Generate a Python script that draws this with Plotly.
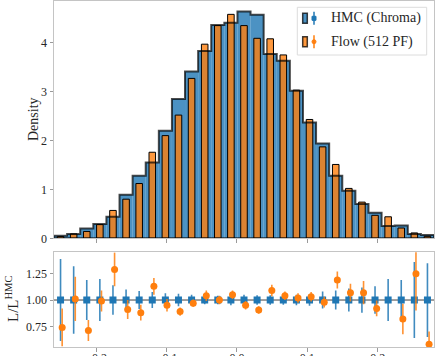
import numpy as np
import plotly.graph_objects as go

# ---------------- data ----------------
x_lo, x_hi, n_bins = -0.26, 0.28, 29

hmc_density = [0.05, 0.09, 0.20, 0.29, 0.44, 0.89, 1.28, 1.55, 2.20, 2.85,
               3.41, 3.83, 4.36, 4.41, 4.64, 4.57, 3.77, 3.63, 3.02, 2.37,
               1.94, 1.28, 0.97, 0.70, 0.52, 0.25, 0.26, 0.09, 0.07]
flow_density = [0.035, 0.09, 0.14, 0.28, 0.57, 0.80, 1.12, 1.76, 2.10, 2.52,
                3.27, 3.97, 4.35, 4.58, 4.35, 4.09, 4.08, 3.75, 3.03, 2.43,
                1.87, 1.51, 1.02, 0.74, 0.47, 0.44, 0.21, 0.11, 0.04]

hmc_ratio_err = [0.39, 0.32, 0.19, 0.20, 0.14, 0.10, 0.085, 0.075, 0.065, 0.06,
                 0.05, 0.04, 0.04, 0.05, 0.05, 0.045, 0.045, 0.045, 0.05, 0.055,
                 0.08, 0.09, 0.11, 0.12, 0.13, 0.20, 0.19, 0.36, 0.35]
flow_ratio = [0.74, 1.01, 0.71, 0.99, 1.29, 0.91, 0.88, 1.13, 0.95, 0.89,
              0.97, 1.04, 1.00, 1.05, 0.95, 0.905, 1.09, 1.04, 1.02, 1.03,
              0.98, 1.19, 1.07, 1.07, 0.92, 1.76, 0.82, 1.25, 0.58]
flow_ratio_err = [0.18, 0.21, 0.10, 0.10, 0.16, 0.09, 0.075, 0.08, 0.06, 0.04,
                  0.035, 0.05, 0.04, 0.04, 0.04, 0.035, 0.055, 0.04, 0.045, 0.045,
                  0.05, 0.08, 0.085, 0.11, 0.075, 0.25, 0.145, 0.35, 0.12]

x_tickvals = [-0.2, -0.1, 0.0, 0.1, 0.2]
x_ticktext = ["\u22120.2", "\u22120.1", "0.0", "0.1", "0.2"]
top_tickvals = [0, 1, 2, 3, 4]
ratio_tickvals = [0.75, 1.00, 1.25]
ratio_ticktext = ["0.75", "1.00", "1.25"]

labels = ["HMC (Chroma)", "Flow (512 PF)"]

# ---------------- derived geometry ----------------
edges = np.linspace(x_lo, x_hi, n_bins + 1)
bw = edges[1] - edges[0]
centers = 0.5 * (edges[:-1] + edges[1:])

BLUE = "#1f77b4"
ORANGE = "#ff7f0e"
BLUE_A = "rgba(31,119,180,0.8)"
ORANGE_A = "rgba(255,127,14,0.8)"
FONT = "Liberation Serif"

# step outline for HMC histogram
px, py = [edges[0]], [0.0]
for i, h in enumerate(hmc_density):
    px += [edges[i], edges[i + 1]]
    py += [h, h]
px += [edges[-1], edges[0]]
py += [0.0, 0.0]

fig = go.Figure()
# HMC filled histogram (full-width bars, no edges)
fig.add_trace(go.Bar(
    x=centers, y=hmc_density, width=bw,
    marker=dict(color=BLUE_A, line=dict(width=0)),
    hoverinfo="skip", showlegend=False, xaxis="x", yaxis="y"))
# Flow narrow bars
fig.add_trace(go.Bar(
    x=centers, y=flow_density, width=0.5 * bw,
    marker=dict(color=ORANGE_A, line=dict(color="black", width=1)),
    showlegend=False, xaxis="x", yaxis="y"))
# HMC step outline
fig.add_trace(go.Scatter(
    x=px, y=py, mode="lines",
    line=dict(color="rgba(0,0,0,0.7)", width=2), hoverinfo="skip",
    showlegend=False, xaxis="x", yaxis="y"))

# ratio panel
fig.add_trace(go.Scatter(
    x=centers, y=[1.0] * n_bins, mode="markers",
    marker=dict(symbol="square", size=7, color=BLUE),
    error_y=dict(type="data", array=hmc_ratio_err, color="rgba(31,119,180,0.85)",
                 thickness=1.6, width=0),
    showlegend=False, xaxis="x2", yaxis="y2"))
fig.add_trace(go.Scatter(
    x=centers + 0.0023, y=flow_ratio, mode="markers",
    marker=dict(symbol="circle", size=7, color=ORANGE),
    error_y=dict(type="data", array=flow_ratio_err, color="rgba(255,127,14,0.85)",
                 thickness=1.6, width=0),
    showlegend=False, xaxis="x2", yaxis="y2", cliponaxis=True))

# ---------------- layout ----------------
W, H = 440, 356
L, R, T, B = 54, 6, 1, 9
ph = H - T - B

def pyc(pix):  # pixel y -> paper y
    return (H - B - pix) / ph

def pxc(pix):  # pixel x -> paper x
    return (pix - L) / (W - L - R)

axis_common = dict(showline=True, mirror=True, linecolor="#c4c4c4", linewidth=1,
                   ticks="outside", ticklen=3.5, tickcolor="#9a9a9a", tickwidth=1,
                   showgrid=False, zeroline=False, automargin=False,
                   tickfont=dict(family=FONT, size=12, color="#262626"))

fig.update_layout(
    width=W, height=H, margin=dict(l=L, r=R, t=T, b=B),
    paper_bgcolor="white", plot_bgcolor="white",
    barmode="overlay", showlegend=False,
    font=dict(family=FONT, color="#262626"),
    xaxis=dict(domain=[0, 1], range=[x_lo, x_hi], anchor="y", matches="x2",
               tickvals=x_tickvals, showticklabels=False, **axis_common),
    yaxis=dict(domain=[pyc(238.3), 1], range=[0, 4.853], anchor="x",
               tickvals=top_tickvals, **axis_common),
    xaxis2=dict(domain=[0, 1], range=[x_lo, x_hi], anchor="y2",
                tickvals=x_tickvals, ticktext=x_ticktext, ticklabelstandoff=-4,
                **axis_common),
    yaxis2=dict(domain=[0, pyc(252.3)], range=[0.554, 1.453], anchor="x2",
                tickvals=ratio_tickvals, ticktext=ratio_ticktext, **axis_common),
)

shapes = [
    dict(type="line", xref="x2 domain", yref="y2", x0=0, x1=1, y0=1, y1=1,
         line=dict(color="#404040", width=1), layer="below"),
    # legend frame
    dict(type="rect", xref="paper", yref="paper",
         x0=pxc(297.3), x1=pxc(426.7), y0=pyc(55), y1=pyc(7.3),
         line=dict(color="#dcdcdc", width=1), fillcolor="rgba(255,255,255,0.8)"),
]
annotations = [
    dict(text="Density", xref="paper", yref="paper", x=pxc(33), y=pyc(119),
         textangle=-90, showarrow=False, xanchor="center", yanchor="middle",
         font=dict(family=FONT, size=14, color="#262626")),
    dict(text="L/L<sup>HMC</sup>", xref="paper", yref="paper", x=pxc(12), y=pyc(299),
         textangle=-90, showarrow=False, xanchor="center", yanchor="middle",
         font=dict(family=FONT, size=15, color="#262626")),
]

rows = [(18.3, BLUE_A, BLUE, "square"), (41.7, ORANGE_A, ORANGE, "circle")]
for (cy, fill, solid, sym), lab in zip(rows, labels):
    shapes.append(dict(type="rect", xref="paper", yref="paper",
                       x0=pxc(302.7), x1=pxc(307.3), y0=pyc(cy + 5), y1=pyc(cy - 5),
                       line=dict(color="rgba(0,0,0,0.75)", width=1.5), fillcolor=fill))
    shapes.append(dict(type="line", xref="paper", yref="paper",
                       x0=pxc(314), x1=pxc(314), y0=pyc(cy + 6.5), y1=pyc(cy - 6.5),
                       line=dict(color=solid, width=1.5)))
    shapes.append(dict(type=("rect" if sym == "square" else "circle"),
                       xref="paper", yref="paper",
                       x0=pxc(312), x1=pxc(316), y0=pyc(cy + 2), y1=pyc(cy - 2),
                       line=dict(color=solid, width=1), fillcolor=solid))
    annotations.append(dict(text=lab, xref="paper", yref="paper", x=pxc(329.3), y=pyc(cy),
                            showarrow=False, xanchor="left", yanchor="middle",
                            font=dict(family=FONT, size=14, color="#262626")))

fig.update_layout(shapes=shapes, annotations=annotations)

fig.write_html("out.html", config={"displayModeBar": False},
               post_script="document.body.style.margin='0';document.body.style.padding='0';")
